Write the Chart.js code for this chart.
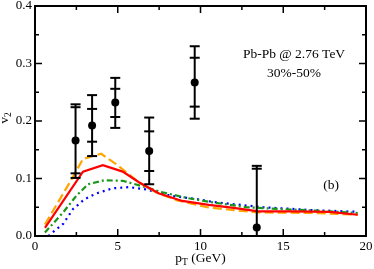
<!DOCTYPE html>
<html>
<head>
<meta charset="utf-8">
<script src="https://cdn.jsdelivr.net/npm/chart.js@4"></script>
<style>
  body { margin: 0; background: #fff; }
  canvas { display: block; }
</style>
</head>
<body>
<canvas id="v2-chart" width="374" height="269"></canvas>
<script>
// data points (pT, v2) with two sets of error caps
const ptX = [2.45, 3.45, 4.85, 6.9, 9.65, 13.4]
const ptY = [0.166, 0.192, 0.232, 0.148, 0.267, 0.015]
const errOuterHi = [0.229, 0.245, 0.275, 0.206, 0.330, 0.122]
const errInnerHi = [0.224, 0.221, 0.256, 0.182, 0.310, 0.117]
const errInnerLo = [0.109, 0.164, 0.207, 0.113, 0.225, -0.09]
const errOuterLo = [0.101, 0.139, 0.188, 0.090, 0.204, -0.10]

// model curves
const redX = [0.6, 2.9, 4.1, 5.3, 6.3, 7.5, 8.9, 10.5, 12.0, 13.5, 15.5, 17.8, 19.5]
const redY = [0.014, 0.112, 0.123, 0.112, 0.093, 0.074, 0.061, 0.054, 0.049, 0.043, 0.043, 0.042, 0.037]
const orangeX = [0.6, 2.1, 2.9, 3.6, 4.0, 4.9, 6.3, 7.3, 8.6, 10.4, 12.0, 13.5, 16.8, 19.5]
const orangeY = [0.020, 0.093, 0.134, 0.140, 0.143, 0.125, 0.093, 0.076, 0.062, 0.050, 0.045, 0.041, 0.040, 0.037]
const greenX = [0.6, 1.7, 2.5, 3.2, 4.2, 5.3, 6.3, 7.7, 9.2, 10.6, 12.8, 14.8, 17.0, 19.5]
const greenY = [0.006, 0.041, 0.070, 0.090, 0.097, 0.096, 0.088, 0.076, 0.066, 0.059, 0.050, 0.047, 0.044, 0.040]
const blueX = [0.8, 1.7, 2.3, 3.0, 3.7, 4.7, 5.7, 6.7, 8.2, 9.8, 10.8, 13.8, 16.8, 19.5]
const blueY = [0.000, 0.021, 0.047, 0.064, 0.074, 0.083, 0.085, 0.081, 0.070, 0.064, 0.059, 0.050, 0.045, 0.042]

const xTicks = [0, 5, 10, 15, 20]
const yTicks = [0, 0.1, 0.2, 0.3, 0.4]

function toXY(xs, ys) {
  return xs.map((x, i) => ({ x: x, y: ys[i] }))
}

const serif = "'Liberation Serif', 'DejaVu Serif', serif"

function curve(xs, ys, color, dash) {
  return {
    type: 'scatter',
    data: toXY(xs, ys),
    showLine: true,
    borderColor: color,
    borderWidth: 2.2,
    borderDash: dash,
    pointRadius: 0,
    fill: false
  }
}

// frame, inward ticks, tick labels, error bars, text labels
const decorPlugin = {
  id: 'decor',
  afterDatasetsDraw(chart) {
    const ctx = chart.ctx
    const a = chart.chartArea
    const xs = chart.scales.x
    const ys = chart.scales.y

    // error bars
    ctx.save()
    ctx.beginPath()
    ctx.rect(a.left, a.top, a.right - a.left, a.bottom - a.top)
    ctx.clip()
    ctx.strokeStyle = '#000'
    ctx.lineWidth = 2
    ptX.forEach((x, i) => {
      const px = xs.getPixelForValue(x)
      ctx.beginPath()
      ctx.moveTo(px, ys.getPixelForValue(errOuterLo[i]))
      ctx.lineTo(px, ys.getPixelForValue(errOuterHi[i]))
      ctx.stroke()
      ;[errOuterHi[i], errInnerHi[i], errInnerLo[i], errOuterLo[i]].forEach(v => {
        const py = ys.getPixelForValue(v)
        ctx.beginPath()
        ctx.moveTo(px - 5, py)
        ctx.lineTo(px + 5, py)
        ctx.stroke()
      })
    })
    ctx.restore()
  },
  afterDraw(chart) {
    const ctx = chart.ctx
    const a = chart.chartArea
    const xs = chart.scales.x
    const ys = chart.scales.y
    ctx.save()
    ctx.strokeStyle = '#000'
    ctx.lineWidth = 2
    ctx.strokeRect(a.left, a.top, a.right - a.left, a.bottom - a.top)

    ctx.lineWidth = 1.5
    // x ticks, major every 5 and minor every 2.5
    for (let v = 0; v <= 20; v += 2.5) {
      const px = xs.getPixelForValue(v)
      const len = (v % 5 === 0) ? 7 : 4
      ctx.beginPath()
      ctx.moveTo(px, a.bottom); ctx.lineTo(px, a.bottom - len)
      ctx.moveTo(px, a.top); ctx.lineTo(px, a.top + len)
      ctx.stroke()
    }
    // y ticks, major every 0.1 and minor every 0.05
    for (let k = 0; k <= 8; k++) {
      const py = ys.getPixelForValue(k * 0.05)
      const len = (k % 2 === 0) ? 7 : 4
      ctx.beginPath()
      ctx.moveTo(a.left, py); ctx.lineTo(a.left + len, py)
      ctx.moveTo(a.right, py); ctx.lineTo(a.right - len, py)
      ctx.stroke()
    }

    ctx.fillStyle = '#000'
    // tick labels
    ctx.font = '13px ' + serif
    ctx.textAlign = 'center'
    ctx.textBaseline = 'alphabetic'
    xTicks.forEach(v => {
      ctx.fillText(String(v), xs.getPixelForValue(v), a.bottom + 14)
    })
    ctx.textAlign = 'right'
    ctx.textBaseline = 'middle'
    yTicks.forEach(v => {
      ctx.fillText(v.toFixed(1), a.left - 3, ys.getPixelForValue(v))
    })

    ctx.textBaseline = 'alphabetic'
    // labels inside plot
    ctx.font = '13.5px ' + serif
    ctx.textAlign = 'center'
    ctx.fillText('Pb-Pb @ 2.76 TeV', 294, 58)
    ctx.fillText('30%-50%', 294, 77)
    ctx.fillText('(b)', 331, 189)

    // x axis title: p_T (GeV)
    ctx.textAlign = 'left'
    const big = '13.5px ' + serif
    const small = '9.5px ' + serif
    ctx.font = big
    const wP = ctx.measureText('p').width
    const wRest = ctx.measureText(' (GeV)').width
    ctx.font = small
    const wT = ctx.measureText('T').width
    let x0 = (a.left + a.right) / 2 - (wP + wT + wRest) / 2
    const base = 262
    ctx.font = big
    ctx.fillText('p', x0, base)
    ctx.font = small
    ctx.fillText('T', x0 + wP, base + 3)
    ctx.font = big
    ctx.fillText(' (GeV)', x0 + wP + wT, base)

    // y axis title: v_2
    ctx.translate(8, 118)
    ctx.rotate(-Math.PI / 2)
    ctx.font = big
    const wv = ctx.measureText('v').width
    ctx.font = small
    const w2 = ctx.measureText('2').width
    const y0 = -(wv + w2) / 2
    ctx.font = big
    ctx.fillText('v', y0, 0)
    ctx.font = small
    ctx.fillText('2', y0 + wv, 3)
    ctx.restore()
  }
}

const config = {
  type: 'scatter',
  data: {
    datasets: [
      {
        type: 'scatter',
        data: toXY(ptX, ptY),
        pointRadius: 4,
        pointBackgroundColor: '#000',
        pointBorderColor: '#000',
        pointBorderWidth: 0
      },
      curve(redX, redY, '#ff0000', []),
      curve(orangeX, orangeY, '#ffa500', [9, 4]),
      curve(greenX, greenY, '#1a961a', [6, 3, 2, 3]),
      curve(blueX, blueY, '#0000ff', [2, 4])
    ]
  },
  options: {
    responsive: false,
    animation: false,
    layout: {
      padding: { top: 6, right: 8, left: 0, bottom: 0 }
    },
    plugins: {
      legend: { display: false },
      tooltip: { enabled: false }
    },
    scales: {
      x: {
        type: 'linear',
        min: 0,
        max: 20,
        grid: { display: false, drawTicks: false },
        border: { display: false },
        ticks: { display: false },
        afterFit: (scale) => { scale.height = 33 }
      },
      y: {
        type: 'linear',
        min: 0,
        max: 0.4,
        grid: { display: false, drawTicks: false },
        border: { display: false },
        ticks: { display: false },
        afterFit: (scale) => { scale.width = 35 }
      }
    }
  },
  plugins: [decorPlugin]
}

const chartElement = document.getElementById('v2-chart').getContext('2d')
const chartV2 = new Chart(chartElement, config)
</script>
</body>
</html>
